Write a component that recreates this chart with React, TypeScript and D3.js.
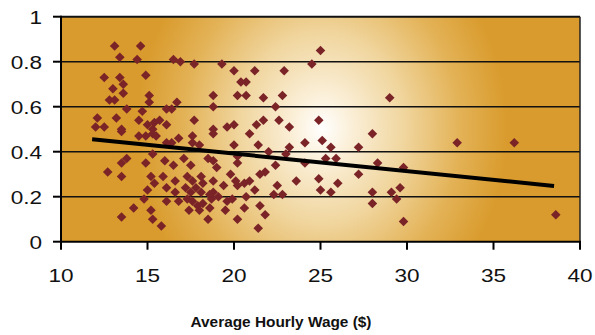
import React from "react";
import * as d3 from "d3";

const wage: number[] = [
  13.1, 14.6, 13.4, 14.4, 16.5, 16.9, 17.7, 12.5, 13.4, 14.9, 13.6, 13.0, 13.6, 15.1, 12.8, 13.1,
  15.1, 13.8, 14.7, 16.1, 16.4, 16.7, 17.7, 12.1, 13.2, 14.5, 15.7, 16.1, 12.0, 12.5, 13.5, 15.0,
  15.4, 15.3, 19.3, 20.0, 21.2, 22.9, 24.5, 25.0, 20.4, 20.7, 18.8, 18.8, 20.2, 20.7, 21.7, 22.8,
  22.4, 29.0, 24.9, 19.6, 20.0, 21.3, 21.7, 22.6, 23.2, 18.8,
  13.8, 13.5, 12.7, 13.5, 14.9, 15.2, 15.4, 15.0, 14.8, 14.2, 15.2, 13.5, 15.3, 15.8, 14.5, 14.9,
  15.3, 15.5, 15.3, 13.5, 15.9, 16.1,
  16.8, 16.4, 16.1, 17.6, 18.8, 17.6, 18.0, 20.0, 16.0, 16.5, 17.1, 17.5, 18.5, 18.8, 19.0, 20.2,
  20.2, 19.8, 20.1, 20.2, 16.6, 17.3, 17.6, 18.1, 18.2, 18.8, 16.6, 17.2, 17.5, 17.8, 18.1, 18.8,
  19.4, 16.1, 16.8, 17.3, 17.6, 17.9, 18.2, 18.7, 19.1, 18.6, 19.6, 19.9, 17.4, 18.0, 18.6, 19.5,
  18.5, 20.2,
  20.9, 21.4, 22.0, 23.0, 23.2, 24.1, 25.1, 25.6, 25.3, 25.9, 24.1, 22.4, 21.8, 21.5, 23.6, 24.9,
  26.0, 20.9, 20.6, 22.5, 21.2, 25.0, 25.6, 20.7, 22.3, 22.8, 21.5, 20.6, 21.8, 21.4,
  27.2, 28.0, 28.3, 27.2, 28.0, 28.0, 29.1, 29.4, 29.6, 29.8, 29.8, 32.9, 36.2, 38.6,
];

const ratio: number[] = [
  0.87, 0.87, 0.82, 0.81, 0.81, 0.80, 0.79, 0.73, 0.73, 0.74, 0.70, 0.68, 0.66, 0.65, 0.63, 0.63,
  0.62, 0.59, 0.58, 0.59, 0.59, 0.62, 0.54, 0.55, 0.55, 0.54, 0.54, 0.52, 0.51, 0.51, 0.50, 0.52,
  0.53, 0.50, 0.79, 0.76, 0.76, 0.76, 0.79, 0.85, 0.71, 0.71, 0.65, 0.60, 0.65, 0.65, 0.64, 0.65,
  0.60, 0.64, 0.54, 0.51, 0.52, 0.52, 0.54, 0.54, 0.51, 0.50,
  0.37, 0.35, 0.31, 0.29, 0.35, 0.29, 0.26, 0.23, 0.19, 0.15, 0.14, 0.11, 0.10, 0.07, 0.47, 0.47,
  0.48, 0.47, 0.39, 0.49, 0.29, 0.24,
  0.46, 0.44, 0.44, 0.47, 0.48, 0.44, 0.43, 0.43, 0.36, 0.34, 0.37, 0.34, 0.37, 0.36, 0.33, 0.35,
  0.38, 0.30, 0.27, 0.25, 0.27, 0.29, 0.27, 0.29, 0.26, 0.27, 0.22, 0.24, 0.22, 0.24, 0.22, 0.22,
  0.25, 0.18, 0.18, 0.19, 0.18, 0.16, 0.17, 0.19, 0.20, 0.21, 0.18, 0.19, 0.14, 0.14, 0.15, 0.14,
  0.10, 0.10,
  0.48, 0.43, 0.40, 0.39, 0.42, 0.44, 0.45, 0.42, 0.37, 0.37, 0.35, 0.34, 0.31, 0.30, 0.27, 0.28,
  0.26, 0.27, 0.26, 0.25, 0.23, 0.23, 0.22, 0.20, 0.21, 0.21, 0.16, 0.15, 0.12, 0.06,
  0.42, 0.48, 0.35, 0.30, 0.22, 0.17, 0.22, 0.19, 0.24, 0.33, 0.09, 0.44, 0.44, 0.12,
];

const trendX: number[] = [11.8, 38.5];
const trendY: number[] = [0.455, 0.248];

const xTicks: number[] = [10, 15, 20, 25, 30, 35, 40];
const yTicks: number[] = [0, 0.2, 0.4, 0.6, 0.8, 1];
const yTickLabels: string[] = ["0", "0.2", "0.4", "0.6", "0.8", "1"];
const xLabel = "Average Hourly Wage ($)";

export default function App() {
  const W = 595, H = 335;
  const L = 61, R = 580, T = 16.7, B = 241.7;
  const x = d3.scaleLinear().domain([10, 40]).range([L, R]);
  const y = d3.scaleLinear().domain([0, 1]).range([B, T]);
  const sym = d3.symbol().type(d3.symbolSquare).size(46)();
  const pts = wage.map((w, i) => [w, ratio[i]] as [number, number]);
  const line = d3.line<[number, number]>().x(d => x(d[0])).y(d => y(d[1]));
  const trend = trendX.map((v, i) => [v, trendY[i]] as [number, number]);
  const font = "'Liberation Sans', Arial, Helvetica, sans-serif";
  return (
    <svg width={W} height={H} style={{ position: "absolute", left: 0, top: 0 }}>
      <defs>
        <radialGradient id="bg" gradientUnits="userSpaceOnUse" cx={322} cy={128} r={185}
          gradientTransform="translate(322 128) scale(1 1.15) translate(-322 -128)">
          <stop offset="0" stopColor="#FFFFFF" />
          <stop offset="0.15" stopColor="#FBF0DA" />
          <stop offset="0.45" stopColor="#F0D59D" />
          <stop offset="0.75" stopColor="#E3B256" />
          <stop offset="1" stopColor="#D99B2D" />
        </radialGradient>
      </defs>
      <rect x={L} y={T} width={R - L} height={B - T} fill="url(#bg)" />
      {yTicks.filter(t => t > 0).map(t => (
        <line key={t} x1={L} x2={R} y1={y(t)} y2={y(t)} stroke="#111" strokeWidth={t === 1 ? 2 : 1.5} />
      ))}
      <line x1={R} x2={R} y1={T} y2={B} stroke="#222" strokeWidth={1.5} />
      {pts.map((p, i) => (
        <path key={i} d={sym!} transform={`translate(${x(p[0])},${y(p[1])}) rotate(45)`} fill="#7B2428" />
      ))}
      <path d={line(trend)!} stroke="#000" strokeWidth={4} fill="none" />
      <line x1={L} x2={L} y1={T - 1} y2={B + 1} stroke="#000" strokeWidth={2} />
      <line x1={L - 1} x2={R + 1} y1={B} y2={B} stroke="#000" strokeWidth={2} />
      {yTicks.map((t, i) => (
        <g key={t}>
          <line x1={L - 8} x2={L} y1={y(t)} y2={y(t)} stroke="#000" strokeWidth={2} />
          <text transform={`translate(42,${y(t) + 7}) scale(1.22,1)`} textAnchor="end"
            fontFamily={font} fontSize={18.5} fill="#111">{yTickLabels[i]}</text>
        </g>
      ))}
      {xTicks.map(t => (
        <g key={t}>
          <line x1={x(t)} x2={x(t)} y1={B} y2={B + 8} stroke="#000" strokeWidth={2} />
          <text transform={`translate(${x(t)},282) scale(1.22,1)`} textAnchor="middle"
            fontFamily={font} fontSize={18.5} fill="#111">{t}</text>
        </g>
      ))}
      <text transform="translate(281,327) scale(1.1,1)" textAnchor="middle" fontFamily={font}
        fontSize={14} fontWeight="bold" fill="#111">{xLabel}</text>
    </svg>
  );
}
